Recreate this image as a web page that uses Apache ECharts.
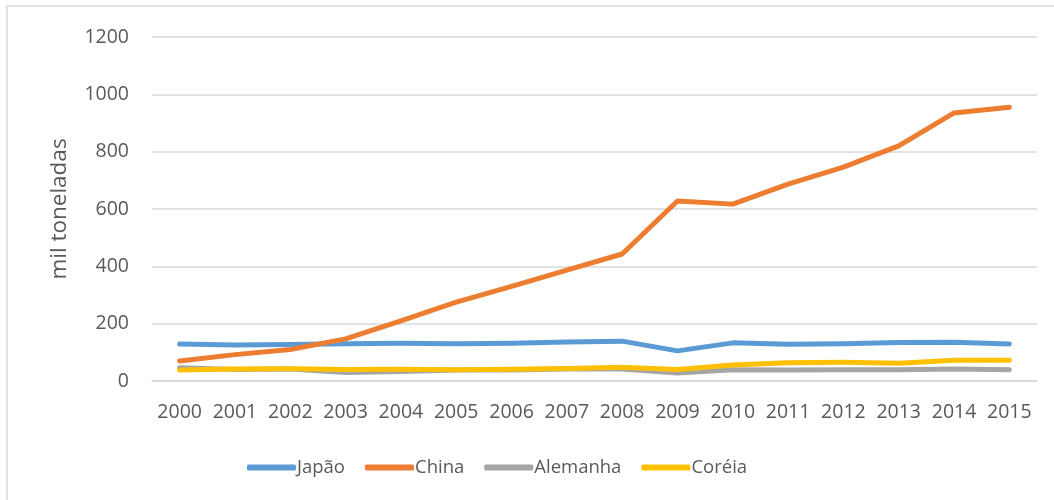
<!DOCTYPE html>
<html>
<head>
<meta charset="utf-8">
<script src="https://cdn.jsdelivr.net/npm/echarts@6/dist/echarts.min.js"></script>
<style>html,body{margin:0;padding:0;background:#fff}#c{width:1054px;height:500px}</style>
</head>
<body>
<div id="c"></div>
<script>
const years = ['2000','2001','2002','2003','2004','2005','2006','2007','2008','2009','2010','2011','2012','2013','2014','2015'];
const japao = [129,126,127,130,132,130,132,136,139,105,133,128,130,134,135,129];
const china = [70,92,110,147,210,275,330,387,443,628,617,687,746,820,935,955];
const alemanha = [46,40,42,30,33,38,38,42,42,28,39,38,39,39,42,39];
const coreia = [38,42,43,40,41,39,41,44,48,40,56,64,65,62,72,72];
const yTicks = [0,200,400,600,800,1000,1200];
const seriesNames = ['Japão','China','Alemanha','Coréia'];

const chart = echarts.init(document.getElementById('c'), null, {renderer:'canvas'});
const font = '"Open Sans", "Liberation Sans", sans-serif';
function s(name, data, color){
  return {name, type:'line', data, symbol:'none', smooth:false,
    lineStyle:{width:5, color, cap:'round', join:'round'}, itemStyle:{color}};
}
chart.setOption({
  animation:false,
  graphic:[{type:'rect', shape:{x:7, y:6, width:1100, height:600}, style:{fill:null, stroke:'#d9d9d9', lineWidth:1.5}, silent:true}],
  grid:{left:152, right:17, top:37, bottom:119},
  legend:{top:453, left:242, itemWidth:49, itemHeight:6, itemGap:20, icon:'roundRect',
    textStyle:{fontFamily:font, fontSize:18.5, color:'#595959', padding:[0,0,0,-4]},
    data:seriesNames},
  xAxis:{type:'category', data:years, boundaryGap:true,
    axisLine:{lineStyle:{color:'#d9d9d9', width:1.5}}, axisTick:{show:false},
    axisLabel:{fontFamily:font, fontSize:19.5, color:'#595959', margin:21, interval:0}},
  yAxis:{type:'value', min:yTicks[0], max:yTicks[yTicks.length-1], interval:200,
    name:'mil toneladas', nameLocation:'middle', nameGap:81, nameRotate:90,
    nameTextStyle:{fontFamily:font, fontSize:22.5, color:'#595959'},
    axisLine:{show:false}, axisTick:{show:false},
    axisLabel:{fontFamily:font, fontSize:19.5, color:'#595959', margin:23, formatter:v=>String(v)},
    splitLine:{lineStyle:{color:'#d9d9d9', width:1.5}}},
  series:[s(seriesNames[0],japao,'#5B9BD5'), s(seriesNames[1],china,'#ED7D31'), s(seriesNames[2],alemanha,'#A5A5A5'), s(seriesNames[3],coreia,'#FFC000')]
});
</script>
</body>
</html>
